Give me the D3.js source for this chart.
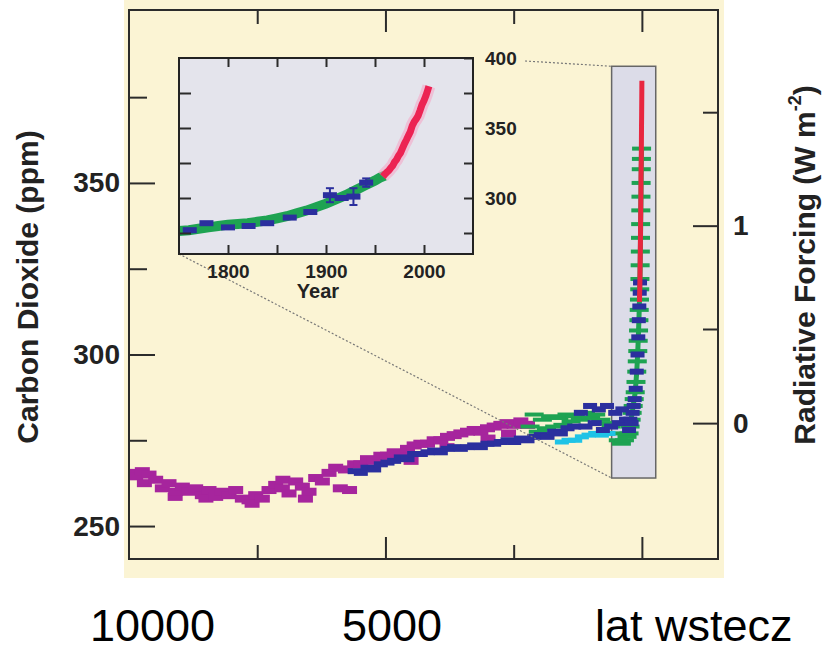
<!DOCTYPE html>
<html>
<head>
<meta charset="utf-8">
<script src="https://cdn.jsdelivr.net/npm/d3@7"></script>
<style>
body{margin:0;background:#fff}
svg{display:block}
text{font-family:"Liberation Sans",Arial,Helvetica,sans-serif}
</style>
</head>
<body>
<svg id="chart" width="825" height="652"></svg>
<script>
// main panel, [years before 2005, CO2 ppm]
const domeC=[[10000,265.5],[9870,264.5],[9740,266],[9700,262.5],[9610,265],[9480,263.5],[9350,261],[9220,262.5],[9100,258.5],[9090,260],[8960,261.5],[8830,260],[8700,261],[8570,259],[8500,258],[8440,260.5],[8310,258.5],[8180,260],[8050,259],[7920,260.5],[7790,258],[7660,257.5],[7600,256.5],[7530,259],[7400,258],[7270,260.5],[7140,262],[7010,261],[7000,263.5],[6880,259.5],[6750,263],[6620,261.5],[6560,258],[6490,260],[6360,264],[6230,263],[6100,265.5],[5970,267],[5880,261],[5780,266.5],[5700,260.5],[5600,268],[5480,268],[5350,269.5],[5220,269],[5090,270.5],[4960,270.5],[4830,271.5],[4700,271],[4570,272.5],[4500,269],[4440,273.5],[4310,274],[4180,274],[4050,275],[3920,275],[3800,273],[3790,276],[3660,276.5],[3530,277],[3400,277.5],[3270,278],[3140,277.5],[3010,278.5],[3000,275.5],[2880,279],[2750,279.5],[2620,280],[2600,277],[2490,279.5],[2360,280.5],[2230,279.5]];
const taylor=[[5600,266],[5480,265.5],[5350,267],[5220,266.5],[5090,268],[4960,268.5],[4830,269],[4700,270],[4570,269.5],[4440,271],[4310,271],[4180,271.5],[4050,272],[3920,271.5],[3790,272.5],[3660,273],[3530,272.5],[3400,273],[3270,273.5],[3140,273],[3010,274],[2880,274],[2750,274.5],[2620,275],[2490,274.5],[2360,275.5],[2230,275],[2100,276],[1970,276.5],[1840,276],[1710,277.5],[1580,277],[1450,278.5],[1320,279],[1190,283],[1100,279],[1010,285],[920,280],[840,284],[760,278],[680,285],[600,279],[520,283],[450,280],[380,284],[310,281],[250,278],[225,281],[200,280],[180,283],[160,285],[140,287],[120,290],[100,295],[85,300],[70,305],[60,310],[50,314],[42,318],[36,321]];
const cyanCore=[[1560,274.5],[1430,275],[1300,275],[1170,276],[1040,276.5],[910,277],[780,276.5],[650,277]];
const lawMain=[[2180,279],[2100,282.5],[2020,277.5],[1940,281],[1860,278.5],[1780,282],[1700,279],[1620,281.5],[1540,279.5],[1460,282.5],[1380,280.5],[1300,282],[1200,281],[1100,283],[1000,281.5],[900,282.5],[800,281],[700,280],[600,279],[520,277],[460,275],[400,274],[340,275],[290,276],[250,277],[230,279],[210,281],[190,283],[170,285],[150,287],[130,289],[115,292],[100,295],[90,298],[80,301],[72,304],[65,307],[58,310],[52,313],[47,316],[42,319],[38,322],[34,326],[30,330],[27,334],[24,338],[21,342],[18,346],[15,350],[12,354],[9,357],[6,360]];

// Mauna Loa
const mloYear=[1958,1960,1962,1964,1966,1968,1970,1972,1974,1976,1978,1980,1982,1984,1986,1988,1990,1992,1994,1996,1998,2000,2002,2004,2005];
const mloCo2=[315.3,316.9,318.4,319.6,321.4,323.0,325.7,327.4,330.2,332.2,335.4,338.7,341.4,344.4,347.2,351.6,354.4,356.4,358.8,362.6,366.7,369.6,373.2,377.5,379.8];

// inset
const lawYear=[1750,1760,1770,1780,1790,1800,1810,1820,1830,1840,1850,1860,1870,1880,1890,1900,1910,1920,1930,1940,1950,1955,1960];
const lawCo2=[276.5,277,278,279,280,281,281.5,282,283,284,285.5,287,289,291,293.5,296,299,302,305.5,309,312.5,314.5,316];
const iceYear=[1761,1778,1800,1821,1840,1863,1884,1904,1916,1928,1941];
const iceCo2=[277,282,279,280,282,286,290,302,300,301,311];
const iceErr=[0,0,0,0,0,0,0,5,0,6,3];

const forcingTicks=[0,1], forcingMinor=[0.5,1.5];
const zoomBoxBp=[590,-270], zoomBoxPpm=[264,384];

const svg=d3.select("#chart");

let x=d3.scaleLinear().domain([10000,-1484]).range([129,718]),
	y=d3.scaleLinear().domain([240.4,400.4]).range([559,10]);
const co2ForF=f=>280*Math.exp(f/5.35);

svg.append("rect").attr("x",124).attr("y",0).attr("width",600).attr("height",578).attr("fill","#fbf4d4");

svg.append("clipPath").attr("id","frame").append("rect")
	.attr("x",129).attr("y",10).attr("width",589).attr("height",549);

// highlighted period
svg.append("rect")
	.attr("x",x(zoomBoxBp[0])).attr("y",y(zoomBoxPpm[1]))
	.attr("width",x(zoomBoxBp[1])-x(zoomBoxBp[0]))
	.attr("height",y(zoomBoxPpm[0])-y(zoomBoxPpm[1]))
	.attr("fill","#dcdce8").attr("stroke","#666").attr("stroke-width",1.5);

let plot=svg.append("g").attr("clip-path","url(#frame)");

function boxes(data,w,h,color) {
	plot.append("g").selectAll("rect").data(data).join("rect")
		.attr("x",d=>x(d[0])-w/2).attr("y",d=>y(d[1])-h/2)
		.attr("width",w).attr("height",h).attr("fill",color);
}

boxes(domeC,15,8,"#a6259d");
plot.append("path").datum(lawMain.filter(d=>d[0]<300))
	.attr("d",d3.line().x(d=>x(d[0])).y(d=>y(d[1])))
	.attr("fill","none").attr("stroke","#1ea352").attr("stroke-width",5);
boxes(lawMain,19,4,"#1ea352");
boxes(cyanCore,14,5,"#1fc3e6");
boxes(taylor,14,6,"#2b2f9e");

plot.append("path").datum(mloYear.map((yr,i)=>[2005-yr,mloCo2[i]]))
	.attr("d",d3.line().x(d=>x(d[0])).y(d=>y(d[1])))
	.attr("fill","none").attr("stroke","#e8263f").attr("stroke-width",5);

// main axes
function styleAxis(g,size) {
	g.select(".domain").remove();
	g.selectAll("line").attr("stroke","#2b2b2b").attr("stroke-width",2);
	g.selectAll("text").attr("font-family","Liberation Sans, Arial, sans-serif")
		.attr("font-weight","bold").attr("font-size",size).attr("fill","#222");
}

svg.append("g").attr("transform","translate(129,0)")
	.call(d3.axisLeft(y).tickValues([250,300,350]).tickSizeInner(-26).tickSizeOuter(0).tickPadding(9))
	.call(styleAxis,28);
svg.append("g").attr("transform","translate(129,0)")
	.call(d3.axisLeft(y).tickValues([275,325,375]).tickSizeInner(-18).tickSizeOuter(0).tickFormat(""))
	.call(styleAxis,28);
svg.append("g").attr("transform","translate(718,0)")
	.call(d3.axisRight(y).tickValues(forcingTicks.map(co2ForF)).tickSizeInner(-25).tickSizeOuter(0).tickPadding(15)
		.tickFormat(d=>Math.round(5.35*Math.log(d/280))))
	.call(styleAxis,28);
svg.append("g").attr("transform","translate(718,0)")
	.call(d3.axisRight(y).tickValues(forcingMinor.map(co2ForF)).tickSizeInner(-15).tickSizeOuter(0).tickFormat(""))
	.call(styleAxis,28);

[[d3.axisBottom,559],[d3.axisTop,10]].forEach(([ax,pos])=>{
	svg.append("g").attr("transform","translate(0,"+pos+")")
		.call(ax(x).tickValues([5000,0]).tickSizeInner(-22).tickSizeOuter(0).tickFormat(""))
		.call(styleAxis,10);
	svg.append("g").attr("transform","translate(0,"+pos+")")
		.call(ax(x).tickValues([7500,2500]).tickSizeInner(-14).tickSizeOuter(0).tickFormat(""))
		.call(styleAxis,10);
});

svg.append("rect").attr("x",129).attr("y",10).attr("width",589).attr("height",549)
	.attr("fill","none").attr("stroke","#2b2b2b").attr("stroke-width",2);

// inset
let xi=d3.scaleLinear().domain([1750,2050]).range([179,473]),
	yi=d3.scaleLinear().domain([260,400]).range([254,58]);

svg.append("line")
	.attr("x1",xi(2050)+52).attr("y1",yi(400)+3)
	.attr("x2",x(zoomBoxBp[0])).attr("y2",y(zoomBoxPpm[1]))
	.attr("stroke","#777").attr("stroke-width",1.2).attr("stroke-dasharray","2,2");
svg.append("line")
	.attr("x1",xi(1750)).attr("y1",yi(260))
	.attr("x2",x(zoomBoxBp[0])).attr("y2",y(zoomBoxPpm[0]))
	.attr("stroke","#777").attr("stroke-width",1.2).attr("stroke-dasharray","2,2");

svg.append("rect").attr("x",xi(1750)).attr("y",yi(400))
	.attr("width",xi(2050)-xi(1750)).attr("height",yi(260)-yi(400))
	.attr("fill","#e4e4ec");

let lineI=d3.line().x(d=>xi(d[0])).y(d=>yi(d[1]));

svg.append("path").datum(lawYear.map((yr,i)=>[yr,lawCo2[i]])).attr("d",lineI)
	.attr("fill","none").attr("stroke","#1ea352").attr("stroke-width",10);

let ice=iceYear.map((yr,i)=>({yr:yr,v:iceCo2[i],e:iceErr[i]}));
svg.append("g").selectAll("rect").data(ice).join("rect")
	.attr("x",d=>xi(d.yr)-7).attr("y",d=>yi(d.v)-3).attr("width",14).attr("height",6)
	.attr("fill","#2b2f9e");
let bars=svg.append("g").attr("stroke","#2b2f9e").attr("stroke-width",2)
	.selectAll("g").data(ice.filter(d=>d.e>0)).join("g");
bars.append("line").attr("x1",d=>xi(d.yr)).attr("x2",d=>xi(d.yr))
	.attr("y1",d=>yi(d.v-d.e)).attr("y2",d=>yi(d.v+d.e));
[-1,1].forEach(s=>{
	bars.append("line").attr("x1",d=>xi(d.yr)-4).attr("x2",d=>xi(d.yr)+4)
		.attr("y1",d=>yi(d.v+s*d.e)).attr("y2",d=>yi(d.v+s*d.e));
});

let mlo=mloYear.map((yr,i)=>[yr,mloCo2[i]]);
svg.append("path").datum(mlo).attr("d",lineI)
	.attr("fill","none").attr("stroke","#f6a3c4").attr("stroke-width",13).attr("opacity",0.55);
svg.append("path").datum(mlo).attr("d",lineI)
	.attr("fill","none").attr("stroke","#ec2353").attr("stroke-width",7);

function styleInset(g) { styleAxis(g,19); }

svg.append("g").attr("transform","translate(0,"+yi(260)+")")
	.call(d3.axisBottom(xi).tickValues([1800,1900,2000]).tickSizeInner(-9).tickSizeOuter(0).tickPadding(11).tickFormat(d3.format("d")))
	.call(styleInset);
svg.append("g").attr("transform","translate(0,"+yi(260)+")")
	.call(d3.axisBottom(xi).tickValues([1850,1950]).tickSizeInner(-9).tickSizeOuter(0).tickFormat(""))
	.call(styleInset);
svg.append("g").attr("transform","translate(0,"+yi(400)+")")
	.call(d3.axisTop(xi).tickValues([1800,1850,1900,1950,2000]).tickSizeInner(-9).tickSizeOuter(0).tickFormat(""))
	.call(styleInset);
svg.append("g").attr("transform","translate("+xi(1750)+",0)")
	.call(d3.axisLeft(yi).tickValues([275,300,325,350,375]).tickSizeInner(-12).tickSizeOuter(0).tickFormat(""))
	.call(styleInset);
svg.append("g").attr("transform","translate("+xi(2050)+",0)")
	.call(d3.axisRight(yi).tickValues([300,350,400]).tickSizeInner(-9).tickSizeOuter(0).tickPadding(12))
	.call(styleInset);
svg.append("g").attr("transform","translate("+xi(2050)+",0)")
	.call(d3.axisRight(yi).tickValues([275,325,375]).tickSizeInner(-9).tickSizeOuter(0).tickFormat(""))
	.call(styleInset);

svg.append("rect").attr("x",xi(1750)).attr("y",yi(400))
	.attr("width",xi(2050)-xi(1750)).attr("height",yi(260)-yi(400))
	.attr("fill","none").attr("stroke","#222").attr("stroke-width",2);

svg.append("text").attr("x",318).attr("y",298).attr("text-anchor","middle")
	.attr("font-weight","bold").attr("font-size",20).attr("fill","#222").text("Year");

// titles
svg.append("text").attr("transform","translate(38,287) rotate(-90)").attr("text-anchor","middle")
	.attr("font-weight","bold").attr("font-size",30).attr("fill","#222").text("Carbon Dioxide (ppm)");

let rt=svg.append("text").attr("transform","translate(815,265) rotate(-90)").attr("text-anchor","middle")
	.attr("font-weight","bold").attr("font-size",30).attr("fill","#222");
rt.append("tspan").text("Radiative Forcing (W m");
rt.append("tspan").attr("font-size",18).attr("dy",-14).text("-2");
rt.append("tspan").attr("dy",14).text(")");

// slide labels under the figure
const bottomLabels=["10000","5000","lat wstecz"];
const bottomLabelX=[90,342,595];
svg.selectAll(".blab").data(bottomLabels).join("text").attr("class","blab")
	.attr("x",(d,i)=>bottomLabelX[i]).attr("y",641)
	.attr("font-size",45).attr("fill","#000").text(d=>d);
</script>
</body>
</html>
